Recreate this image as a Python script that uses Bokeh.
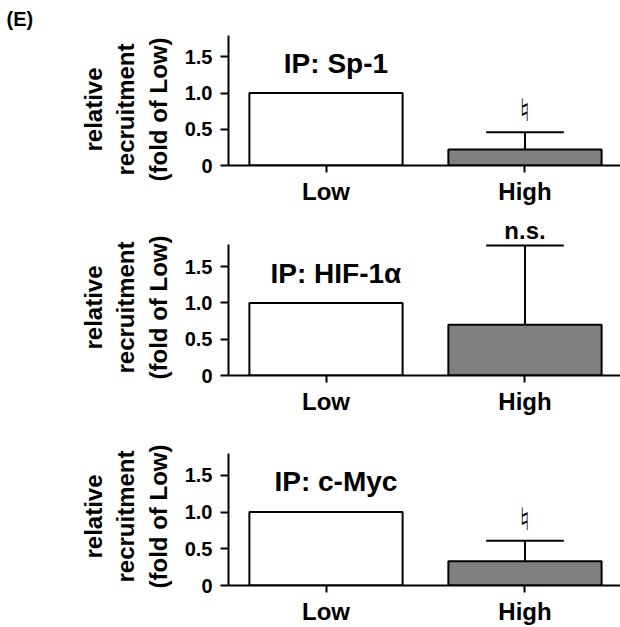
from bokeh.plotting import figure
from bokeh.layouts import column
from bokeh.models import Range1d, FixedTicker, Label, ColumnDataSource
from bokeh.embed import file_html
from bokeh.resources import INLINE

# ---------------- data ----------------
groups = ["Low", "High"]
targets = ["IP: Sp-1", "IP: HIF-1\u03b1", "IP: c-Myc"]
low_values = [1.0, 1.0, 1.0]
high_values = [0.22, 0.70, 0.33]
high_errors = [0.24, 1.09, 0.28]
marks = ["\u266e", "n.s.", "\u266e"]
y_ticks = [0, 0.5, 1.0, 1.5]
y_tick_labels = ["0", "0.5", "1.0", "1.5"]
y_axis_max = 1.8
y_label_lines = ["relative", "recruitment", "(fold of Low)"]
panel_label = "(E)"

FONT = "Liberation Sans"
PX_PER_UNIT = 73.5
tops = [33, 12, 10]
frame_hs = [134, 158, 158]
bottoms = [40, 40, 42]
PAD = "\u00a0" * 3


def make(i):
    y_end = frame_hs[i] / PX_PER_UNIT
    p = figure(width=620, height=tops[i] + frame_hs[i] + bottoms[i],
               x_range=Range1d(-0.49, 1.48), y_range=Range1d(0, y_end),
               output_backend="svg", toolbar_location=None,
               min_border_left=228, min_border_right=0,
               min_border_top=tops[i], min_border_bottom=bottoms[i])
    p.outline_line_color = None
    p.grid.visible = False
    p.background_fill_color = "white"

    if i == 0:
        p.title.text = panel_label
        p.title.align = "left"
        p.title.offset = -222
        p.title.standoff = 8
        p.title.text_font = FONT
        p.title.text_font_style = "bold"
        p.title.text_font_size = "20px"
        p.title.text_color = "black"

    xs = list(range(len(groups)))
    vals = [low_values[i], high_values[i]]
    src = ColumnDataSource(dict(x=xs, top=vals, fill=["white", "#808080"]))

    # error bar (upper only) for High
    hi = high_values[i] + high_errors[i]
    p.segment(x0=[xs[1]], y0=[high_values[i]], x1=[xs[1]], y1=[hi],
              line_color="black", line_width=2)
    p.segment(x0=[xs[1] - 0.195], y0=[hi], x1=[xs[1] + 0.195], y1=[hi],
              line_color="black", line_width=2)

    p.vbar(x="x", top="top", bottom=0, width=0.77, fill_color="fill",
           line_color="black", line_width=2, source=src)

    # axes
    xa = p.xaxis[0]
    xa.ticker = FixedTicker(ticks=xs)
    xa.major_label_overrides = {x: g for x, g in zip(xs, groups)}
    ya = p.yaxis[0]
    ya.bounds = (0, y_axis_max)
    ya.ticker = FixedTicker(ticks=y_ticks)
    ya.major_label_overrides = {t: l for t, l in zip(y_ticks, y_tick_labels)}
    ya.axis_label = "\n".join(s + PAD for s in y_label_lines)
    ya.axis_label_text_font = FONT
    ya.axis_label_text_font_style = "bold"
    ya.axis_label_text_font_size = "24px"
    ya.axis_label_text_color = "black"
    ya.axis_label_standoff = 10
    for ax in (xa, ya):
        ax.axis_line_width = 2
        ax.axis_line_color = "black"
        ax.major_tick_line_width = 2
        ax.major_tick_line_color = "black"
        ax.major_tick_in = 0
        ax.minor_tick_line_color = None
        ax.major_label_text_font = FONT
        ax.major_label_text_font_style = "bold"
        ax.major_label_text_color = "black"
    xa.major_tick_out = 7
    xa.major_label_standoff = 5
    xa.major_label_text_font_size = "24px"
    ya.major_tick_out = 8
    ya.major_label_standoff = 8
    ya.major_label_text_font_size = "20px"

    # title inside plot
    p.add_layout(Label(x=0.05, y=1.41, text=targets[i], text_align="center",
                       text_baseline="alphabetic", text_font=FONT,
                       text_font_style="bold", text_font_size="28px",
                       text_color="black"))
    # significance mark
    if marks[i] == "n.s.":
        p.add_layout(Label(x=xs[1], y=hi, y_offset=15, text=marks[i],
                           text_align="center", text_baseline="alphabetic",
                           text_font=FONT, text_font_style="bold",
                           text_font_size="24px", text_color="black"))
    else:
        p.add_layout(Label(x=xs[1], y=hi, y_offset=22, text=marks[i],
                           text_align="center", text_baseline="middle",
                           text_font="DejaVu Sans", text_font_size="31px",
                           text_color="black"))
    return p


layout = column([make(i) for i in range(3)], spacing=0)
open("out.html", "w").write(file_html(layout, INLINE))
